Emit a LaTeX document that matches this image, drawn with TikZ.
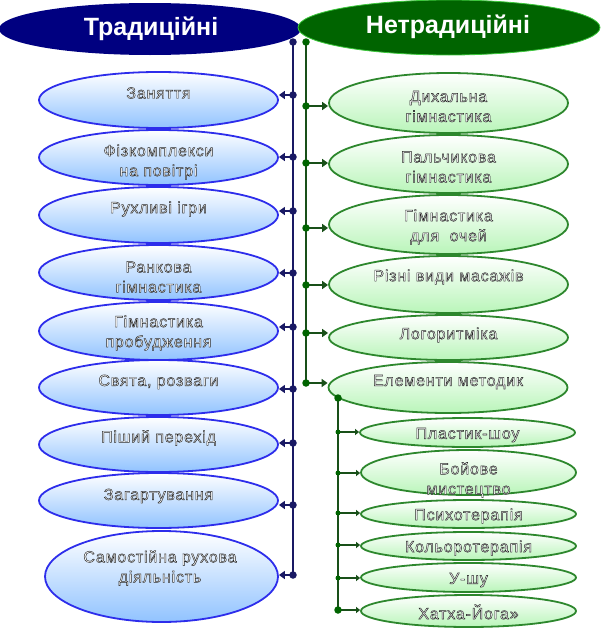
\documentclass[tikz,border=0pt]{standalone}
\usepackage{fontspec}
\setmainfont{Liberation Sans}
\newfontfamily\itemfont[LetterSpace=5]{Liberation Sans}
\usetikzlibrary{shapes.geometric,arrows.meta}
\definecolor{navyc}{RGB}{0,0,128}
\definecolor{navyline}{RGB}{25,25,100}
\definecolor{hgreen}{RGB}{0,100,0}
\definecolor{hgreenb}{RGB}{60,200,60}
\definecolor{gline}{RGB}{25,80,25}
\definecolor{gdotc}{RGB}{0,100,0}
\definecolor{bborder}{RGB}{45,45,235}
\definecolor{bbottom}{RGB}{145,195,255}
\definecolor{gborder}{RGB}{45,135,45}
\definecolor{gbottom}{RGB}{185,245,185}
\newcommand\olon{\special{pdf:literal direct 2 Tr 0.45 w 0.15 0.15 0.15 RG}}
\newcommand\oloff{\special{pdf:literal direct 0 Tr}}
\begin{document}
\begin{tikzpicture}[x=1pt,y=-1pt,
  bell/.style={ellipse, draw=bborder, line width=1.8pt, top color=white, bottom color=bbottom, minimum width=239pt, inner sep=0pt},
  gell/.style={ellipse, draw=gborder, line width=1.8pt, top color=white, bottom color=gbottom, minimum width=239pt, inner sep=0pt},
  sell/.style={gell, minimum width=215pt},
  lbl/.style={font=\itemfont\fontsize{16}{20}\selectfont, text=white, align=center, inner sep=0pt},
  headlbl/.style={font=\bfseries\fontsize{25}{28}\selectfont, text=white, inner sep=0pt},
  bdot/.style={circle, fill=navyline, inner sep=0pt, minimum size=7.5pt},
  gdot/.style={circle, fill=gdotc, inner sep=0pt, minimum size=7.5pt},
  gsdot/.style={circle, fill=gdotc, inner sep=0pt, minimum size=5pt},
  bline/.style={draw=navyline, line width=2.8pt},
  gmline/.style={draw=gline, line width=2.8pt},
  barrow/.style={draw=navyline, line width=2.2pt, -{Triangle[length=6pt,width=8pt]}},
  garrow/.style={draw=gline, line width=2.2pt, -{Triangle[length=6pt,width=8pt]}},
  gsarrow/.style={draw=gline, line width=2.4pt, -{Triangle[length=4pt,width=6pt]}}
]
\useasboundingbox (0,0) rectangle (600,629);
% headers
\node[ellipse, fill=navyc, minimum width=302pt, minimum height=52pt, inner sep=0pt] (h1) at (150,29) {};
\node[ellipse, fill=hgreen, draw=hgreenb, line width=0.8pt, minimum width=302pt, minimum height=55pt, inner sep=0pt] (h2) at (449,27.5) {};
\node[headlbl] (h1t) at (151,29) {Традиційні};
\node[headlbl] (h2t) at (448,27) {Нетрадиційні};
% dot coordinates
\coordinate (btop) at (293,42);
\coordinate (gtop) at (306,42);
\foreach \n/\y in {1/95,2/157,3/211,4/273,5/327,6/389,7/443,8/505,9/575}
  \coordinate (bd\n) at (293,\y);
\foreach \n/\y in {1/106,2/163,3/228,4/285,5/333,6/383}
  \coordinate (gd\n) at (306,\y);
\coordinate (stop) at (338,398);
\foreach \n/\y in {1/432,2/473,3/513,4/545,5/578,6/610}
  \coordinate (sd\n) at (338,\y);
% trunks
\draw[bline] (btop) -- (bd9);
\draw[gmline] (gtop) -- (gd6);
% left ellipses
\node[bell, minimum height=56pt] (l1) at (158.5,100) {};
\node[lbl] (l1t) at (158.5,93) {\olon Заняття\oloff};
\node[bell, minimum height=55pt] (l2) at (158.5,157.5) {};
\node[lbl] (l2t) at (158.5,162) {\olon Фізкомплекси\\на повітрі\oloff};
\node[bell, minimum height=56pt] (l3) at (158.5,215) {};
\node[lbl] (l3t) at (158.5,209) {\olon Рухливі ігри\oloff};
\node[bell, minimum height=55pt] (l4) at (158.5,272.5) {};
\node[lbl] (l4t) at (158.5,277) {\olon Ранкова\\гімнастика\oloff};
\node[bell, minimum height=58pt] (l5) at (158.5,331) {};
\node[lbl] (l5t) at (158.5,333) {\olon Гімнастика\\пробудження\oloff};
\node[bell, minimum height=55pt] (l6) at (158.5,387.5) {};
\node[lbl] (l6t) at (158.5,382) {\olon Свята, розваги\oloff};
\node[bell, minimum height=55pt] (l7) at (158.5,444.5) {};
\node[lbl] (l7t) at (158.5,438) {\olon Піший перехід\oloff};
\node[bell, minimum height=55pt] (l8) at (158.5,500.5) {};
\node[lbl] (l8t) at (158.5,496) {\olon Загартування\oloff};
\node[bell, minimum height=91pt, minimum width=233pt] (l9) at (161.5,576.5) {};
\node[lbl] (l9t) at (160,568) {\olon Самостійна рухова\\діяльність\oloff};
% right ellipses
\node[gell, minimum height=60pt] (r1) at (448.5,103) {};
\node[lbl] (r1t) at (448.5,106.5) {\olon Дихальна\\гімнастика\oloff};
\node[gell, minimum height=58pt] (r2) at (448.5,164) {};
\node[lbl] (r2t) at (448.5,167) {\olon Пальчикова\\гімнастика\oloff};
\node[gell, minimum height=59pt] (r3) at (448.5,224.5) {};
\node[lbl] (r3t) at (448.5,227) {\olon Гімнастика\\для~~очей\oloff};
\node[gell, minimum height=57pt] (r4) at (448.5,284.5) {};
\node[lbl] (r4t) at (448.5,277) {\olon Різні види масажів\oloff};
\node[gell, minimum height=45pt] (r5) at (448.5,337.5) {};
\node[lbl] (r5t) at (448.5,335) {\olon Логоритміка\oloff};
\node[gell, minimum height=51pt] (r6) at (448,387.5) {};
\node[lbl] (r6t) at (448,382) {\olon Елементи методик\oloff};
% sub ellipses
\node[sell, minimum height=29pt] (s1) at (467.5,432.5) {};
\node[lbl] (s1t) at (467.5,435) {\olon Пластик-шоу\oloff};
\node[sell, minimum height=45pt] (s2) at (468.5,472.5) {};
\node[lbl] (s2t) at (468.5,480) {\olon Бойове\\мистецтво\oloff};
\node[sell, minimum height=28pt] (s3) at (468.5,514) {};
\node[lbl] (s3t) at (468.5,516) {\olon Психотерапія\oloff};
\node[sell, minimum height=28pt] (s4) at (468.5,546) {};
\node[lbl] (s4t) at (468.5,548) {\olon Кольоротерапія\oloff};
\node[sell, minimum height=29pt] (s5) at (468.5,577.5) {};
\node[lbl] (s5t) at (468.5,580) {\olon У-шу\oloff};
\node[sell, minimum height=32pt] (s6) at (468.5,611) {};
\node[lbl] (s6t) at (468.5,612) {\olon Хатха-Йога»\oloff};
% sub trunk
\draw[gmline] (stop) -- (sd6);
% connectors
\foreach \n in {1,...,9}
  \draw[barrow] (bd\n) -- (bd\n -| l\n.east);
\foreach \n in {1,...,6}
  \draw[garrow] (gd\n) -- (gd\n -| r\n.west);
\foreach \n in {1,...,6}
  \draw[gsarrow] (sd\n) -- (sd\n -| s\n.west);
% dots
\node[bdot] (btopd) at (btop) {};
\node[gdot] (gtopd) at (gtop) {};
\foreach \n in {1,...,9}
  \node[bdot] (bdd\n) at (bd\n) {};
\foreach \n in {1,...,6}
  \node[gdot] (gdd\n) at (gd\n) {};
\node[gdot] (stopd) at (stop) {};
\foreach \n in {1,...,5}
  \node[gsdot] (sdd\n) at (sd\n) {};
\node[gdot] (sdd6) at (sd6) {};
\end{tikzpicture}
\end{document}
